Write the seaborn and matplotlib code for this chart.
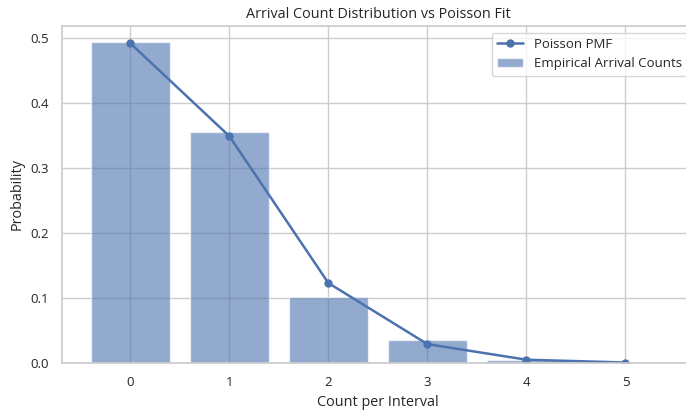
import matplotlib
matplotlib.use("Agg")
import matplotlib.pyplot as plt
import seaborn as sns

counts = [0, 1, 2, 3, 4, 5]
empirical = [0.494, 0.355, 0.102, 0.035, 0.005, 0.0]
poisson_pmf = [0.492, 0.349, 0.123, 0.029, 0.005, 0.0007]

sns.set_theme(style="whitegrid")
plt.rcParams["font.family"] = ["Open Sans", "DejaVu Sans"]
color = sns.color_palette()[0]

fig = plt.figure(figsize=(6.86, 4.12), dpi=100)
ax = fig.add_axes([0.0904, 0.119, 0.921, 0.818])

ax.bar(counts, empirical, width=0.8, color=color, alpha=0.6,
       label="Empirical Arrival Counts")
sns.lineplot(x=counts, y=poisson_pmf, marker="o", color=color, linewidth=1.8,
             markersize=6, markeredgewidth=0, label="Poisson PMF", ax=ax)

ax.set_title("Arrival Count Distribution vs Poisson Fit", fontsize=10.4)
ax.set_xlabel("Count per Interval", fontsize=10.4)
ax.set_ylabel("Probability", fontsize=10.4)
ax.set_xticks(counts)
ax.tick_params(labelsize=9.5)
ax.legend(loc="upper right", fontsize=9.5)

fig.savefig("out.png", dpi=100)
